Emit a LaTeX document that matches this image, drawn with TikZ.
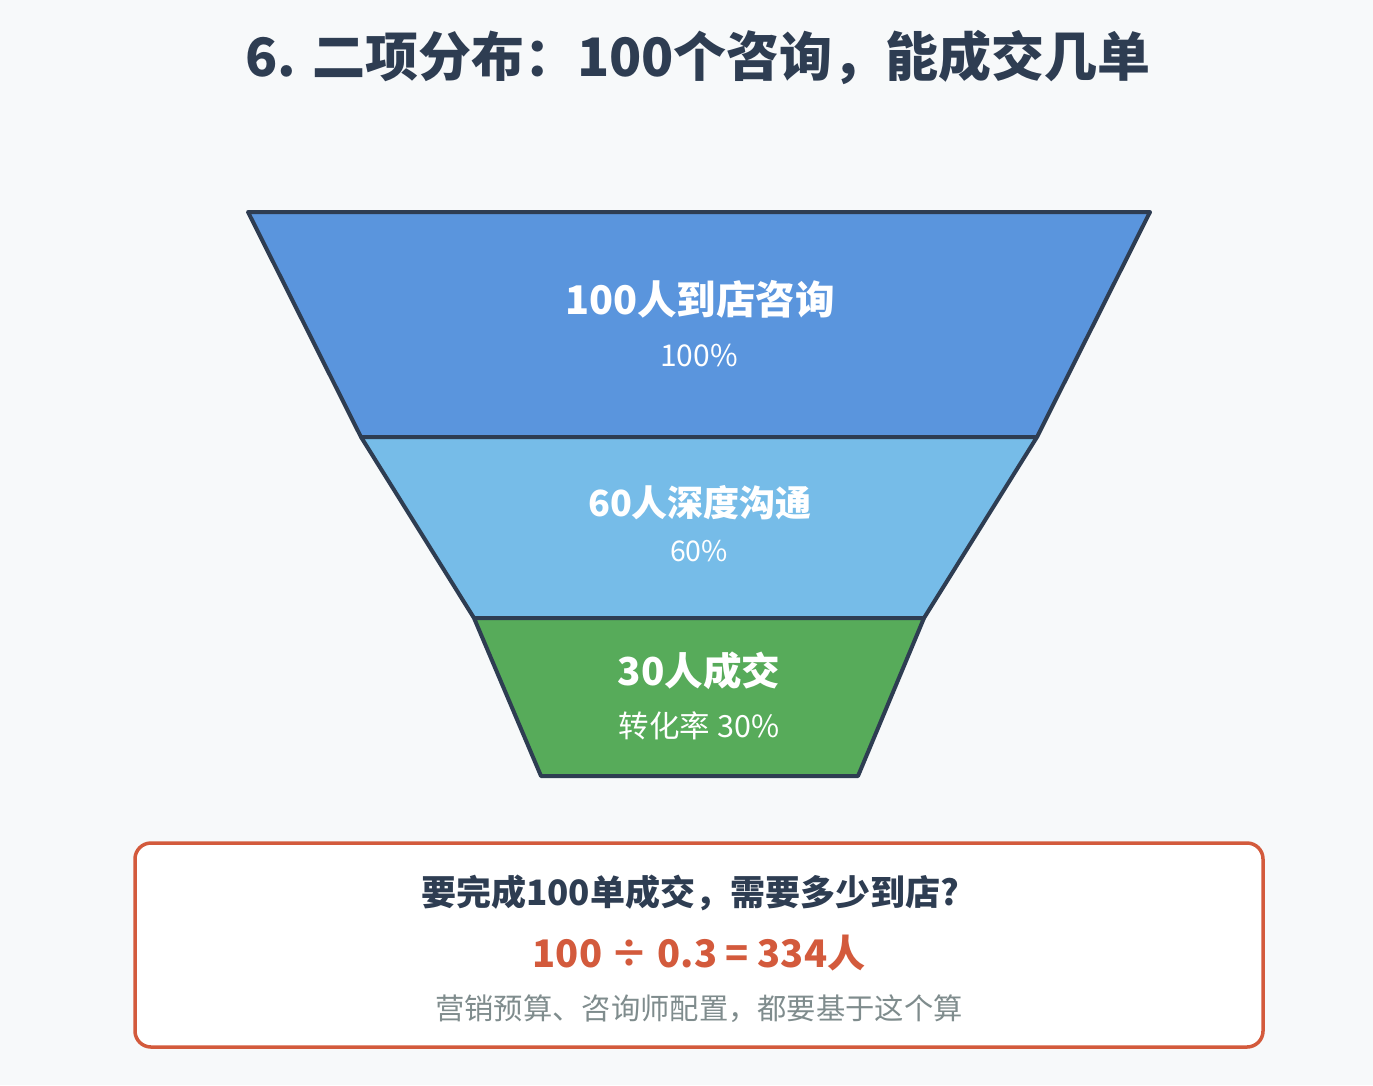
\documentclass[tikz,border=0pt]{standalone}
\usepackage{fontspec}
\setmainfont{Noto Sans CJK SC}
\usepackage{tikz}
\usetikzlibrary{calc}
\definecolor{pagebg}{HTML}{F7F9FA}
\definecolor{ink}{HTML}{2E3D52}
\definecolor{topblue}{HTML}{5A95DD}
\definecolor{midblue}{HTML}{76BCE8}
\definecolor{dealgreen}{HTML}{57AB5A}
\definecolor{accent}{HTML}{D35A3C}
\definecolor{note}{HTML}{7F8C8D}
\tikzset{
  stage/.style={draw=ink, line width=4pt, line join=round},
  big/.style={text=white, font=\bfseries\fontsize{#1}{#1}\selectfont},
  small/.style={text=white, font=\fontsize{#1}{#1}\selectfont},
}

\begin{document}
\begin{tikzpicture}[x=1pt, y=-1pt]
      \fill[pagebg] (0, 0) rectangle (1373, 1085);
      \useasboundingbox (0, 0) rectangle (1373, 1085);
      \node[text=ink, font=\bfseries\fontsize{53}{53}\selectfont] (title) at (698, 57) {6. 二项分布：100个咨询，能成交几单};
      \draw[stage, fill=topblue] (248, 212) -- (1150, 212) -- (1037, 437) -- (361, 437) -- cycle;
      \draw[stage, fill=midblue] (361, 437) -- (1037, 437) -- (924, 618) -- (474, 618) -- cycle;
      \draw[stage, fill=dealgreen] (474, 618) -- (924, 618) -- (858, 776) -- (541, 776) -- cycle;
      \node[big=39.5] (visit) at (700, 299) {100人到店咨询};
      \node[small=30] (visitpct) at (699, 355) {100\%};
      \node[big=36] (talk) at (700, 503) {60人深度沟通};
      \node[small=28.5] (talkpct) at (699, 551) {60\%};
      \node[big=38.5] (deal) at (699, 671) {30人成交};
      \node[small=30.5] (dealpct) at (699, 726) {转化率 30\%};
      \draw[accent, fill=white, line width=3.5pt, rounded corners=16pt] (135, 843) rectangle (1263, 1047);
      \node[text=ink, font=\bfseries\fontsize{35}{35}\selectfont] (ask) at (690, 893) {要完成100单成交，需要多少到店?};
      \node[text=accent, font=\bfseries\fontsize{38}{38}\selectfont] (calc) at (699, 953) {100 ÷ 0.3 = 334人};
      \node[text=note, font=\fontsize{29.3}{29.3}\selectfont] (hint) at (699, 1009) {营销预算、咨询师配置，都要基于这个算};
\end{tikzpicture}
\end{document}
